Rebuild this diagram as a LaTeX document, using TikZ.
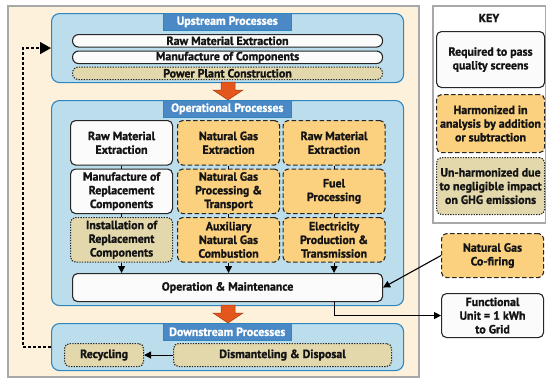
\documentclass[tikz,border=0pt]{standalone}
\usepackage{fontspec}
\setmainfont{PT Sans}[FakeBold=1.2]
\usetikzlibrary{arrows.meta,calc}
\definecolor{cream}{HTML}{FEF1DB}
\definecolor{framegray}{HTML}{A8A8A8}
\definecolor{panelblue}{HTML}{BCDDEC}
\definecolor{panelline}{HTML}{2E86C1}
\definecolor{tabblue}{HTML}{4A89C5}
\definecolor{boxwhite}{HTML}{FBFBFB}
\definecolor{harm}{HTML}{FBD07E}
\definecolor{tanfill}{HTML}{E2D8AC}
\definecolor{blockorange}{HTML}{E5561C}
\tikzset{
  txt/.style={font=\bfseries\fontsize{11.9}{13.7}\selectfont, text=black!92},
  box/.style={txt, rounded corners=5pt, line width=1.1pt, draw=black!85, align=center,
    inner sep=0.5pt, anchor=north west},
  reqbox/.style={box, fill=boxwhite},
  harmbox/.style={box, fill=harm, dash pattern=on 4.5pt off 2.5pt},
  unhbox/.style={box, fill=tanfill, dash pattern=on 1.3pt off 1.3pt},
  pill/.style={box, rounded corners=6pt, minimum width=310pt, minimum height=12.5pt, inner sep=0pt},
  panel/.style={draw=panelline, fill=panelblue, line width=1.1pt, rounded corners=8pt,
    anchor=north west, inner sep=0pt, minimum width=352pt},
  tabbox/.style={txt, fill=tabblue, draw=panelline, line width=0.6pt, text=white, anchor=north west,
    minimum width=128pt, minimum height=17pt, inner sep=0pt},
  cell/.style={minimum width=102pt, minimum height=44.5pt},
  link/.style={line width=1pt, draw=black},
  arr/.style={line width=1.1pt, draw=black, -{Triangle[length=7pt,width=7pt]}},
  loopline/.style={line width=1.2pt, draw=black, dash pattern=on 3pt off 2pt,
    -{Triangle[length=11pt,width=12pt]}},
  blockarrow/.style={fill=blockorange, draw=blockorange!70!black, line width=0.5pt},
}
\begin{document}
\begin{tikzpicture}[x=1pt,y=-1pt]
\useasboundingbox (0,0) rectangle (546,378);
% outer frame
\node[draw=framegray, fill=cream, line width=2pt, anchor=north west, minimum width=411pt,
  minimum height=371pt, inner sep=0pt] (frame) at (7,5) {};
% key frame
\node[draw=framegray, fill=white, line width=2pt, anchor=north west, minimum width=113pt,
  minimum height=217pt, inner sep=0pt] (keyframe) at (432,5) {};
\node[txt] (keytitle) at (489,18) {KEY};
\node[reqbox, minimum width=108pt, minimum height=56pt] (k1) at (436,31) {Required to pass\\quality screens};
\node[harmbox, minimum width=108pt, minimum height=58pt] (k2) at (436,94) {Harmonized in\\analysis by addition\\or subtraction};
\node[unhbox, minimum width=108pt, minimum height=57pt] (k3) at (436,157) {Un-harmonized due\\to negligible impact\\on GHG emissions};

% panels
\node[panel, minimum height=69pt] (upP) at (51,13) {};
\node[panel, minimum height=205pt] (opP) at (51,100) {};
\node[panel, minimum height=47pt] (downP) at (51,323) {};
\node[tabbox] (upT) at (163,13) {Upstream Processes};
\node[tabbox] (opT) at (163,100) {Operational Processes};
\node[tabbox] (downT) at (163,323) {Downstream Processes};

% upstream
\node[pill, fill=boxwhite] (u1) at (72,34) {Raw Material Extraction};
\node[pill, fill=boxwhite] (u2) at (72,50.5) {Manufacture of Components};
\node[pill, fill=tanfill, dash pattern=on 1.3pt off 1.3pt] (u3) at (72,66.5) {Power Plant Construction};

% operational grid
\node[reqbox, cell] (c11) at (70,120) {Raw Material\\Extraction};
\node[harmbox, cell] (c12) at (177,120) {Natural Gas\\Extraction};
\node[harmbox, cell] (c13) at (282.5,120) {Raw Material\\Extraction};
\node[reqbox, cell] (c21) at (70,168.5) {Manufacture of\\Replacement\\Components};
\node[harmbox, cell] (c22) at (177,168.5) {Natural Gas\\Processing \&\\Transport};
\node[harmbox, cell] (c23) at (282.5,168.5) {Fuel\\Processing};
\node[unhbox, cell] (c31) at (70,217) {Installation of\\Replacement\\Components};
\node[harmbox, cell] (c32) at (177,217) {Auxiliary\\Natural Gas\\Combustion};
\node[harmbox, cell] (c33) at (282.5,217) {Electricity\\Production \&\\Transmission};
\node[reqbox, minimum width=310pt, minimum height=28pt] (om) at (72,273) {Operation \& Maintenance};

\foreach \c in {1,2,3}{
  \draw[link] (c1\c.south) -- (c2\c.north);
  \draw[link] (c2\c.south) -- (c3\c.north);
  \draw[arr] (c3\c.south) -- (om.north -| c3\c.south);
}

% downstream
\node[unhbox, minimum width=79pt, minimum height=23pt] (rec) at (64,343) {Recycling};
\node[unhbox, minimum width=218pt, minimum height=23pt] (dis) at (173,343) {Dismanteling \& Disposal};
\draw[arr] (dis.west) -- (rec.east);

% outside boxes
\node[harmbox, minimum width=102pt, minimum height=44pt] (cof) at (441,233) {Natural Gas\\Co-firing};
\node[reqbox, minimum width=102pt, minimum height=44pt] (fu) at (441,293) {Functional\\Unit = 1 kWh\\to Grid};
\draw[arr] (cof.west) -- (om.east);
\draw[arr] (om.south -| c33.south) |- (fu.west);

% feedback loop
\draw[loopline] (downP.west) -- ++(-28,0) |- (upP.west);

% block arrows
\draw[blockarrow] (221,82) -- (235,82) -- (235,90) -- (243,90) -- (228,100) -- (213,90) -- (221,90) -- cycle;
\draw[blockarrow] (221,305) -- (235,305) -- (235,313) -- (243,313) -- (228,323) -- (213,313) -- (221,313) -- cycle;
\end{tikzpicture}
\end{document}
